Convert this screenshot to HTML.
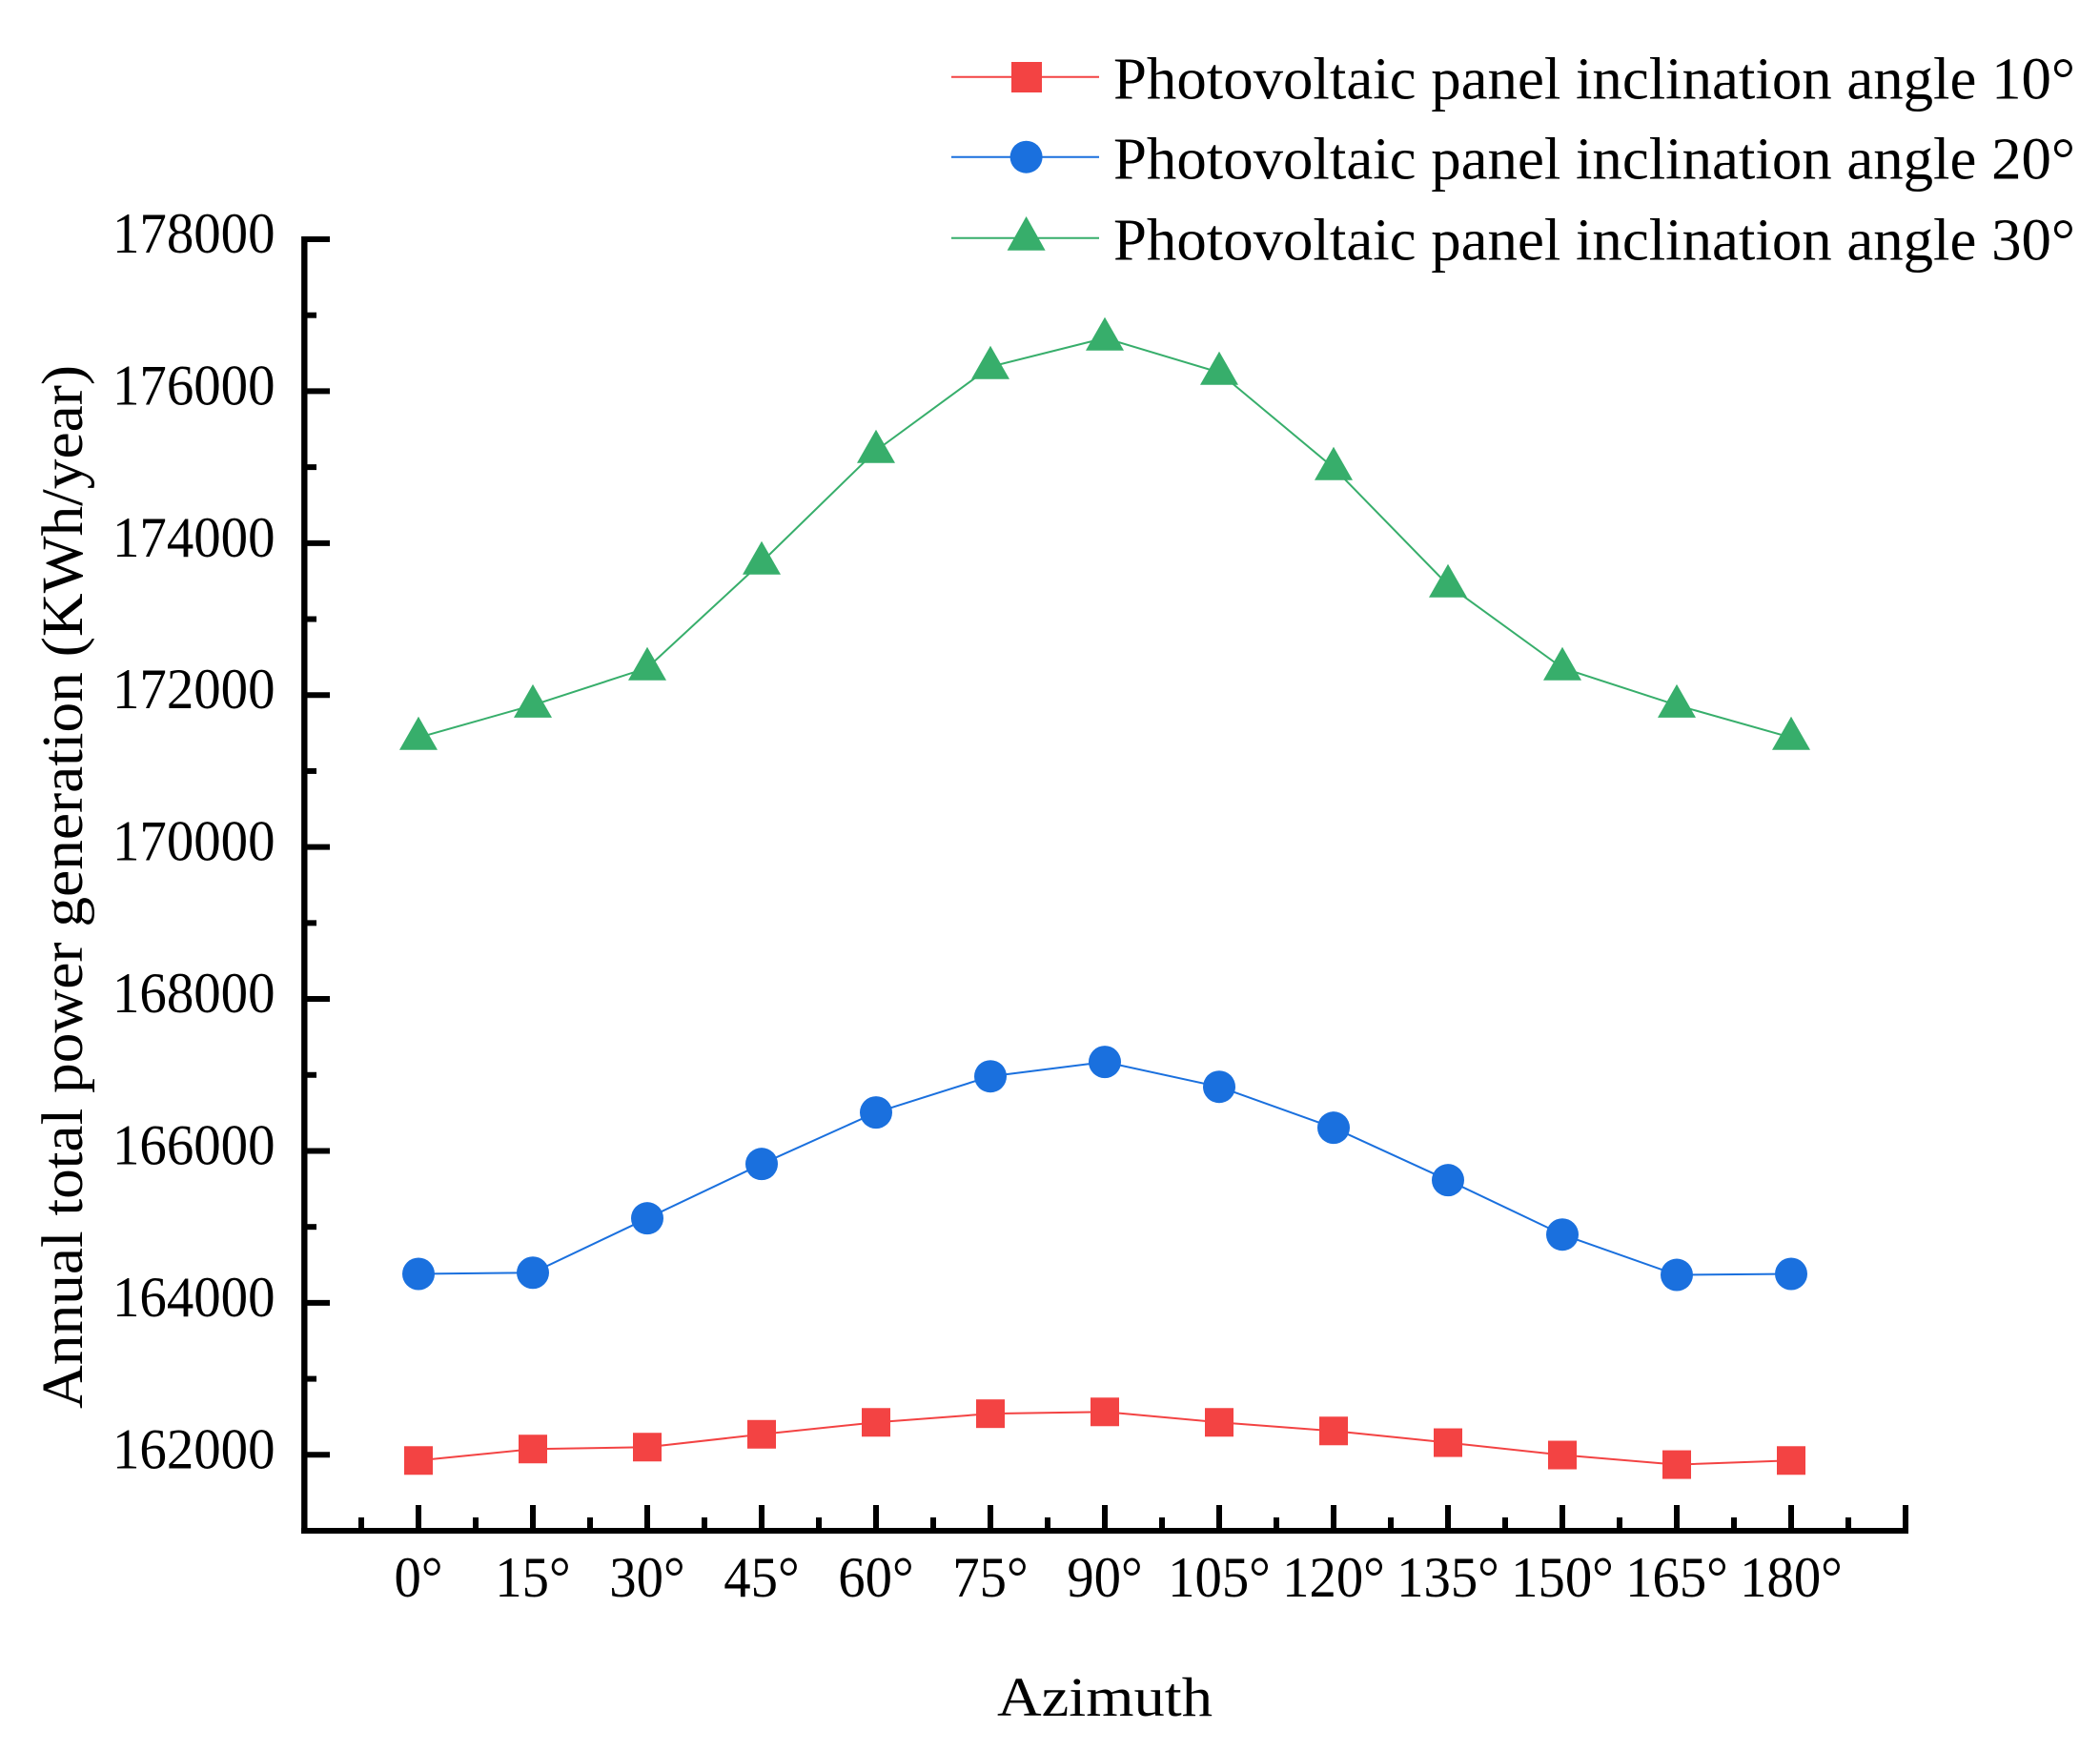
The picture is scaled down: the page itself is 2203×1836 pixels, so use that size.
<!DOCTYPE html>
<html lang="en">
<head>
<meta charset="utf-8">
<title>Annual total power generation by azimuth</title>
<style>
html,body{margin:0;padding:0;background:#fff;}
svg{display:block;}
text{font-family:"Liberation Serif","Noto Serif CJK SC",serif;fill:#000;}
</style>
</head>
<body>
<svg id="chart" xmlns="http://www.w3.org/2000/svg" width="2203" height="1836" viewBox="0 0 2203 1836">
  <rect x="0" y="0" width="2203" height="1836" fill="#ffffff"/>
  <g id="series-layer"></g>
  <g id="axes-layer"></g>

  <text transform="translate(86,1478) rotate(-90)" font-size="61" textLength="1095" lengthAdjust="spacingAndGlyphs">Annual total power generation (KWh/year)</text>
  <text x="1046" y="1800" font-size="58" textLength="226" lengthAdjust="spacingAndGlyphs">Azimuth</text>

  <g>
    <g>
      <line x1="998" y1="80.7" x2="1153" y2="80.7" stroke="#f34343" stroke-width="2"/>
      <rect x="1061" y="65" width="32" height="32" fill="#f34343"/>
      <text x="1168" y="103.5" font-size="62" textLength="1009" lengthAdjust="spacingAndGlyphs">Photovoltaic panel inclination angle 10°</text>
    </g>
    <g>
      <line x1="998" y1="164.7" x2="1153" y2="164.7" stroke="#1a70de" stroke-width="2"/>
      <circle cx="1076.6" cy="164.7" r="17" fill="#1a70de"/>
      <text x="1168" y="187.5" font-size="62" textLength="1009" lengthAdjust="spacingAndGlyphs">Photovoltaic panel inclination angle 20°</text>
    </g>
    <g>
      <line x1="998" y1="249.7" x2="1153" y2="249.7" stroke="#37ae6b" stroke-width="2"/>
      <polygon points="1076.6,227 1056.6,262.7 1096.6,262.7" fill="#37ae6b"/>
      <text x="1168" y="272.5" font-size="62" textLength="1009" lengthAdjust="spacingAndGlyphs">Photovoltaic panel inclination angle 30°</text>
    </g>
  </g>
</svg>
<script>
const azimuths = [0, 15, 30, 45, 60, 75, 90, 105, 120, 135, 150, 165, 180];
const azimuthLabels = ['0°', '15°', '30°', '45°', '60°', '75°', '90°', '105°', '120°', '135°', '150°', '165°', '180°'];
const series10 = [161925, 162076, 162101, 162270, 162427, 162541, 162565, 162427, 162314, 162160, 161997, 161871, 161925];
const series20 = [164381, 164397, 165113, 165828, 166506, 166982, 167171, 166844, 166305, 165615, 164899, 164368, 164381];
const series30 = [171441, 171867, 172357, 173750, 175218, 176322, 176699, 176247, 174992, 173449, 172357, 171867, 171441];
const yTickValues = [162000, 164000, 166000, 168000, 170000, 172000, 174000, 176000, 178000];
const yMinorValues = [163000, 165000, 167000, 169000, 171000, 173000, 175000, 177000];
const xMinorValues = [-7.5, 7.5, 22.5, 37.5, 52.5, 67.5, 82.5, 97.5, 112.5, 127.5, 142.5, 157.5, 172.5, 187.5];

const NS = 'http://www.w3.org/2000/svg';
const xScale = a => 319 + (a + 15) * 8;
const yScale = v => 1606 - (v - 161000) * (1355 / 17000);
const series = document.getElementById('series-layer');
const axes = document.getElementById('axes-layer');
const RED = '#f34343', BLUE = '#1a70de', GREEN = '#37ae6b';

function make(tag, attrs, parent) {
  const el = document.createElementNS(NS, tag);
  for (const k in attrs) el.setAttribute(k, attrs[k]);
  parent.appendChild(el);
  return el;
}
function linePoints(values) {
  return values.map((v, i) => xScale(azimuths[i]) + ',' + yScale(v)).join(' ');
}

/* axis lines */
const yAxis = make('line', {x1: 319.3, y1: 248, x2: 319.3, y2: 1609, stroke: '#000', 'stroke-width': 6.4}, axes);


const xAxis = make('line', {x1: 316, y1: 1606, x2: 2002, y2: 1606, stroke: '#000', 'stroke-width': 6}, axes);



/* y ticks and labels */
yTickValues.forEach(v => {
  const t = make('line', {x1: 319, y1: yScale(v), x2: 346, y2: yScale(v), stroke: '#000', 'stroke-width': 6}, axes);
  
  
  const l = make('text', {x: 118, y: yScale(v) + 14, 'font-size': 60, textLength: 170.5, lengthAdjust: 'spacingAndGlyphs'}, axes);
  l.textContent = String(v);
  
  
});
yMinorValues.forEach(v => {
  const t = make('line', {x1: 319, y1: yScale(v), x2: 332, y2: yScale(v), stroke: '#000', 'stroke-width': 6}, axes);
  
  
});

/* x ticks and labels */
azimuths.concat([195]).forEach(a => {
  const t = make('line', {x1: xScale(a), y1: 1579, x2: xScale(a), y2: 1606, stroke: '#000', 'stroke-width': 6}, axes);
  
  
});
xMinorValues.forEach(a => {
  const t = make('line', {x1: xScale(a), y1: 1592, x2: xScale(a), y2: 1606, stroke: '#000', 'stroke-width': 6}, axes);
  
  
});
azimuthLabels.forEach((label, i) => {
  const l = make('text', {y: 1675, 'font-size': 60}, axes);
  l.textContent = label;
  
  
  const w = l.getComputedTextLength() * 0.945;
  l.setAttribute('textLength', w);
  l.setAttribute('lengthAdjust', 'spacingAndGlyphs');
  l.setAttribute('x', xScale(azimuths[i]) - w / 2);
});

/* series 10 deg */
const line10 = make('polyline', {points: linePoints(series10), fill: 'none', stroke: RED, 'stroke-width': 2}, series);


series10.forEach((v, i) => {
  const m = make('rect', {x: xScale(azimuths[i]) - 15, y: yScale(v) - 15, width: 30, height: 30, fill: RED}, series);
  
  
});

/* series 20 deg */
const line20 = make('polyline', {points: linePoints(series20), fill: 'none', stroke: BLUE, 'stroke-width': 2}, series);


series20.forEach((v, i) => {
  const m = make('circle', {cx: xScale(azimuths[i]), cy: yScale(v), r: 17, fill: BLUE}, series);
  
  
});

/* series 30 deg */
const line30 = make('polyline', {points: linePoints(series30), fill: 'none', stroke: GREEN, 'stroke-width': 2}, series);


series30.forEach((v, i) => {
  const cx = xScale(azimuths[i]), cy = yScale(v);
  const m = make('polygon', {points: cx + ',' + (cy - 22) + ' ' + (cx - 20) + ',' + (cy + 13) + ' ' + (cx + 20) + ',' + (cy + 13), fill: GREEN}, series);
  
  
});
</script>
</body>
</html>
